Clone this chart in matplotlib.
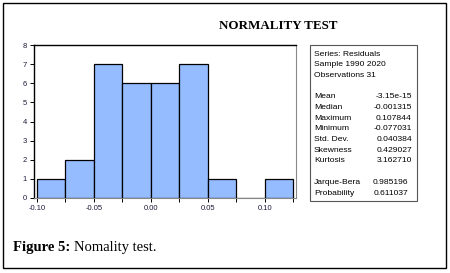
import numpy as np
import matplotlib
matplotlib.use("Agg")
import matplotlib.pyplot as plt
from matplotlib.patches import Rectangle

# histogram of residuals
bin_edges = [-0.100, -0.075, -0.050, -0.025, 0.000, 0.025, 0.050, 0.075, 0.100, 0.125]
counts = [1, 2, 7, 6, 6, 7, 1, 0, 1]
xticks = [-0.10, -0.05, 0.00, 0.05, 0.10]
xtick_labels = ["-0.10", "-0.05", "0.00", "0.05", "0.10"]
yticks = [0, 1, 2, 3, 4, 5, 6, 7, 8]

header_lines = ["Series: Residuals", "Sample 1990 2020", "Observations 31"]
stat_names = ["Mean", "Median", "Maximum", "Minimum", "Std. Dev.", "Skewness", "Kurtosis"]
stat_values = ["-3.15e-15", "-0.001315", "0.107844", "-0.077031", "0.040384", "0.429027", "3.162710"]
test_names = ["Jarque-Bera", "Probability"]
test_values = ["0.985196", "0.611037"]

fig = plt.figure(figsize=(4.5, 2.73), dpi=100)

# outer frame
fig.patches.append(Rectangle((3/450, 5/273), 443/450, 265/273, transform=fig.transFigure,
                             fill=False, edgecolor="black", linewidth=1.0))

fig.text(0.618, 0.905, "NORMALITY TEST", ha="center", va="center",
         fontsize=9.4, fontweight="bold", family="Liberation Serif")

ax = fig.add_axes([34/450, 1 - 198/273, 262/450, 153/273])
lefts = np.array(bin_edges[:-1])
widths = np.diff(bin_edges)
ax.bar(lefts, counts, width=widths, align="edge", color="#94bcff",
       edgecolor="black", linewidth=0.9)
ax.set_xlim(-0.1026, 0.1272)
ax.set_ylim(0, 8)
ax.set_xticks(bin_edges, minor=True)
ax.set_xticks(xticks)
ax.set_xticklabels(xtick_labels)
ax.set_yticks(yticks)
for lab in ax.get_xticklabels() + ax.get_yticklabels():
    lab.set_fontsize(5.5)
    lab.set_family("Liberation Sans")
    lab.set_color("#1c1c3c")
ax.tick_params(axis="x", which="both", length=3, width=0.7, direction="out", pad=2)
ax.tick_params(axis="y", length=3, width=0.7, direction="out", pad=2)
ax.spines["top"].set_linewidth(1.0)
ax.spines["left"].set_linewidth(1.0)
ax.spines["right"].set_color("#888888")
ax.spines["bottom"].set_color("#888888")

# statistics box
fig.patches.append(Rectangle((310/450, 1 - 201/273), 107/450, 156/273, transform=fig.transFigure,
                             fill=False, edgecolor="#555555", linewidth=0.8))
fs = 6.1
x_name = 314/450
x_val = 412/450
step = 10.7 / 273
y = 1 - 54/273
for line in header_lines:
    fig.text(x_name, y, line, fontsize=fs, family="Liberation Sans", va="center")
    y -= step
y -= step
for n, v in zip(stat_names, stat_values):
    fig.text(x_name, y, n, fontsize=fs, family="Liberation Sans", va="center")
    fig.text(x_val, y, v, fontsize=fs, family="Liberation Sans", va="center", ha="right")
    y -= step
y -= step
for n, v in zip(test_names, test_values):
    fig.text(x_name, y, n, fontsize=fs, family="Liberation Sans", va="center")
    fig.text(x_val - 4/450, y, v, fontsize=fs, family="Liberation Sans", va="center", ha="right")
    y -= step

# caption
fig.text(13/450, 1 - 248/273, "Figure 5:", fontsize=10.5, fontweight="bold",
         family="Liberation Serif", va="center")
fig.text(74/450, 1 - 248/273, "Nomality test.", fontsize=10.5,
         family="Liberation Serif", va="center")

fig.savefig("out.png", dpi=100)
